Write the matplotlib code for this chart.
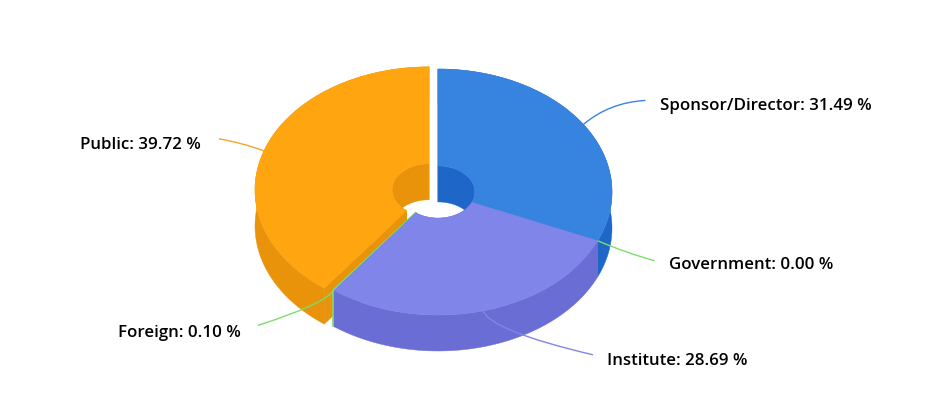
import numpy as np
import matplotlib
matplotlib.use('Agg')
import matplotlib.pyplot as plt
from matplotlib.patches import Polygon, PathPatch
from matplotlib.path import Path

names = ['Sponsor/Director', 'Government', 'Institute', 'Foreign', 'Public']
shares = [31.49, 0.00, 28.69, 0.10, 39.72]
top_colors = ['#3784e0', '#7fdc6a', '#8085e9', '#7fdc6a', '#ffa50f']
side_colors = ['#1e66c8', '#7fdc6a', '#6a6ed4', '#7fdc6a', '#e8930a']
line_colors = ['#3784e0', '#7fdc6a', '#8085e9', '#7fdc6a', '#f5a623']
exploded = [False, False, False, False, True]

# pie geometry, in pixels of the output
cx, cy = 438, 192
rx, ry = 174, 123
hole = 0.212
depth = 36
explode_px = 9.5

# connector: offset of elbow and end from the anchor, and where the label sits
elbows = [(26, -22), (28, 12), (8, 20), (-10, 14), (-22, -8)]
ends = [(62, -24), (57, 20), (110, 44), (-76, 35), (-45, -12)]
label_xy = [(660, 106), (669, 265), (607, 361), (241, 333), (201, 145)]
label_ha = ['left', 'left', 'left', 'right', 'right']

fig = plt.figure(figsize=(9.31, 4.18), dpi=100)
ax = fig.add_axes([0, 0, 1, 1])
ax.set_xlim(0, 931)
ax.set_ylim(418, 0)
ax.axis('off')


def ring(a, r, x0, y0, dy=0):
    # a in radians, clockwise from the top
    return np.column_stack([x0 + r * rx * np.sin(a), y0 - r * ry * np.cos(a) + dy])


# work out the angles of each slice from the shares
edges = np.cumsum([0] + shares) / sum(shares) * 2 * np.pi
slices = []
for i in range(len(shares)):
    a0, a1 = edges[i], edges[i + 1]
    x0, y0 = cx, cy
    if exploded[i]:
        mid = (a0 + a1) / 2
        x0 += explode_px * np.sin(mid)
        y0 -= explode_px * np.cos(mid) * ry / rx
    slices.append((i, a0, a1, x0, y0))


def draw_slice(i, a0, a1, x0, y0):
    a = np.linspace(a0, a1, 200)
    inner = ring(a, hole, x0, y0)
    outer = ring(a, 1, x0, y0)
    lw = 1.2 if shares[i] < 1 else 0.3
    side = side_colors[i]
    # inner wall, outer wall and the two cut faces
    walls = [
        np.vstack([inner, inner[::-1] + [0, depth]]),
        np.vstack([outer, outer[::-1] + [0, depth]]),
        np.vstack([inner[0], outer[0], outer[0] + [0, depth], inner[0] + [0, depth]]),
        np.vstack([inner[-1], outer[-1], outer[-1] + [0, depth], inner[-1] + [0, depth]]),
    ]
    for w in walls:
        ax.add_patch(Polygon(w, closed=True, fc=side, ec=side, lw=lw))
    ax.add_patch(Polygon(np.vstack([outer, inner[::-1]]), closed=True,
                         fc=top_colors[i], ec=top_colors[i], lw=lw))


# back to front: the thin foreign slice goes under institute so only its rim shows
for s in [slices[4], slices[0], slices[3], slices[2]]:
    draw_slice(*s)

# connectors and labels
for i, a0, a1, x0, y0 in slices:
    mid = (a0 + a1) / 2
    anchor = ring(np.array([mid]), 1, x0, y0)[0]
    p1 = anchor + elbows[i]
    p2 = anchor + ends[i]
    path = Path([anchor, p1, p2], [Path.MOVETO, Path.CURVE3, Path.CURVE3])
    ax.add_patch(PathPatch(path, fc='none', ec=line_colors[i], lw=1))
    ax.text(label_xy[i][0], label_xy[i][1], f'{names[i]}: {shares[i]:.2f} %',
            ha=label_ha[i], va='center', fontsize=12.2, fontweight=600,
            family='Open Sans', color='black')

fig.savefig('out.png', dpi=100, facecolor='white')
